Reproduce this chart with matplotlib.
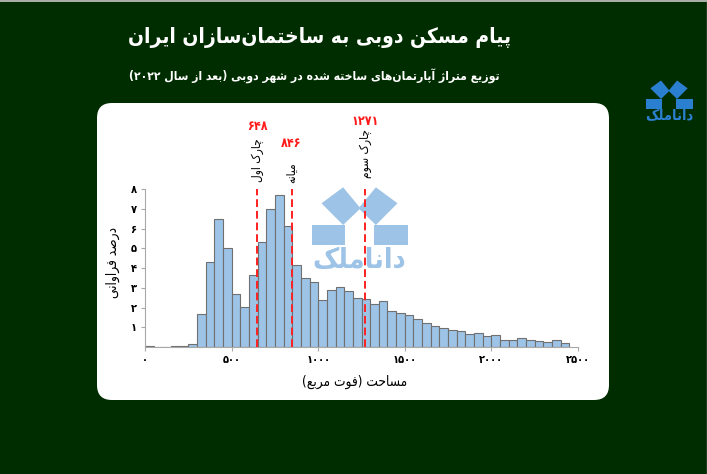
import re
import numpy as np
import matplotlib
matplotlib.use("Agg")
import matplotlib.pyplot as plt
from matplotlib.patches import FancyBboxPatch, Polygon, Rectangle

# ---- data ----
bin_width = 50
bin_start = np.arange(0, 2450, bin_width)
pct = [0.05, 0.02, 0.02, 0.03, 0.05, 0.17, 1.66, 4.31, 6.46, 5.00,
       2.69, 2.03, 3.65, 5.31, 6.99, 7.70, 6.12, 4.15, 3.47, 3.30,
       2.39, 2.88, 3.03, 2.84, 2.50, 2.45, 2.18, 2.32, 1.84, 1.71,
       1.64, 1.42, 1.24, 1.07, 0.98, 0.88, 0.80, 0.68, 0.71, 0.58,
       0.59, 0.36, 0.36, 0.44, 0.36, 0.31, 0.25, 0.36, 0.22]
quart_vals = [648, 846, 1271]
quart_names = ["چارک اول", "میانه", "چارک سوم"]
x_ticks = [0, 500, 1000, 1500, 2000, 2500]
y_ticks = [1, 2, 3, 4, 5, 6, 7, 8]

title = "پیام مسکن دوبی به ساختمان\u200cسازان ایران"
subtitle = "توزیع متراژ آپارتمان\u200cهای ساخته شده در شهر دوبی (بعد از سال ۲۰۲۲)"
xlabel = "مساحت (فوت مربع)"
ylabel = "درصد فراوانی"
brand = "داناملک"

# ---- tiny arabic/persian shaper (matplotlib does no text shaping) ----
# isolated, final, initial, medial
FORMS = {
    '\u0622': (0xFE81, 0xFE82),
    '\u0627': (0xFE8D, 0xFE8E),
    '\u0628': (0xFE8F, 0xFE90, 0xFE91, 0xFE92),
    '\u067E': (0xFB56, 0xFB57, 0xFB58, 0xFB59),
    '\u062A': (0xFE95, 0xFE96, 0xFE97, 0xFE98),
    '\u062D': (0xFEA1, 0xFEA2, 0xFEA3, 0xFEA4),
    '\u062E': (0xFEA5, 0xFEA6, 0xFEA7, 0xFEA8),
    '\u0686': (0xFB7A, 0xFB7B, 0xFB7C, 0xFB7D),
    '\u062F': (0xFEA9, 0xFEAA),
    '\u0631': (0xFEAD, 0xFEAE),
    '\u0632': (0xFEAF, 0xFEB0),
    '\u0698': (0xFB8A, 0xFB8B),
    '\u0633': (0xFEB1, 0xFEB2, 0xFEB3, 0xFEB4),
    '\u0634': (0xFEB5, 0xFEB6, 0xFEB7, 0xFEB8),
    '\u0635': (0xFEB9, 0xFEBA, 0xFEBB, 0xFEBC),
    '\u0639': (0xFEC9, 0xFECA, 0xFECB, 0xFECC),
    '\u0641': (0xFED1, 0xFED2, 0xFED3, 0xFED4),
    '\u06A9': (0xFB8E, 0xFB8F, 0xFB90, 0xFB91),
    '\u0644': (0xFEDD, 0xFEDE, 0xFEDF, 0xFEE0),
    '\u0645': (0xFEE1, 0xFEE2, 0xFEE3, 0xFEE4),
    '\u0646': (0xFEE5, 0xFEE6, 0xFEE7, 0xFEE8),
    '\u0647': (0xFEE9, 0xFEEA, 0xFEEB, 0xFEEC),
    '\u0648': (0xFEED, 0xFEEE),
    '\u06CC': (0xFBFC, 0xFBFD, 0xFBFE, 0xFBFF),
}


def fa(s):
    out = []
    for i, c in enumerate(s):
        if c not in FORMS:
            out.append(c)
            continue
        f = FORMS[c]
        prev = s[i - 1] if i > 0 else ''
        nxt = s[i + 1] if i + 1 < len(s) else ''
        jp = prev in FORMS and len(FORMS[prev]) == 4
        jn = len(f) == 4 and nxt in FORMS
        k = 3 if (jp and jn) else 1 if jp else 2 if jn else 0
        out.append(chr(f[k]))
    vis = ''.join(out).replace('\u200c', '')[::-1]
    vis = re.sub('[\u06F0-\u06F9]+', lambda m: m.group(0)[::-1], vis)
    return vis.translate(str.maketrans('()', ')('))


def fa_num(n):
    return str(n).translate(str.maketrans('0123456789', '۰۱۲۳۴۵۶۷۸۹'))


plt.rcParams['font.family'] = ['DejaVu Sans']
plt.rcParams['font.stretch'] = 'condensed'

fig = plt.figure(figsize=(7.07, 4.74), dpi=100)
fig.patch.set_facecolor('#002d00')

# background layer in pixel units
bg = fig.add_axes([0, 0, 1, 1], zorder=0)
bg.set_xlim(0, 707)
bg.set_ylim(474, 0)
bg.axis('off')
bg.add_patch(FancyBboxPatch((97, 103), 512, 297,
                            boxstyle="round,pad=0,rounding_size=15",
                            fc='white', ec='none'))
bg.plot([0, 707], [0.5, 0.5], color='#c8c8c8', lw=1.2)
bg.plot([706.5, 706.5], [0, 474], color='#9a9a9a', lw=1)

bg.text(320, 37, fa(title), color='white', fontsize=15, fontweight='bold',
        ha='center', va='center')
bg.text(314, 76, fa(subtitle), color='white', fontsize=8.7,
        fontweight='bold', ha='center', va='center')


def draw_logo(target, tr, x0, y0, s, color, fsize, z):
    dl = [(10, 16), (31.6, 0), (49, 21), (31.6, 37.7)]
    dr = [(96 - x, y) for x, y in dl]
    for pts in (dl, dr):
        target.add_patch(Polygon([(x0 + s * x, y0 + s * y) for x, y in pts],
                                 closed=True, fc=color, ec='none',
                                 transform=tr, clip_on=False, zorder=z))
    for rx in (0, 62.5):
        target.add_patch(Rectangle((x0 + s * rx, y0 + s * 37.7), s * 33.5,
                                   s * 20.3, fc=color, ec='none',
                                   transform=tr, clip_on=False, zorder=z))
    target.text(x0 + s * 48, y0 + s * 72.5, fa(brand), color=color,
                fontsize=fsize, fontweight='bold', ha='center', va='center',
                transform=tr, clip_on=False, zorder=z)


draw_logo(bg, bg.transData, 645.5, 80.5, 0.49, '#2a7fd0', 10.5, 2)

# ---- chart ----
ax = fig.add_axes([145 / 707, 1 - 347 / 474, 433 / 707, 158 / 474], zorder=1)
ax.patch.set_alpha(0)
ax.bar(bin_start, pct, width=bin_width, align='edge', color='#9dc3e6',
       edgecolor='#707070', linewidth=0.8, zorder=1)
ax.set_xlim(0, 2500)
ax.set_ylim(0, 8)

draw_logo(ax, bg.transData, 311.5, 187.3, 1.0, '#9dc3e6', 20.5, 1.5)

ax.vlines(quart_vals, 0, 8, colors='#ff2020', linestyles=(0, (4, 2)),
          lw=1.4, zorder=3)
name_y = [8.35, 8.3, 8.55]
num_y = [11.15, 10.28, 11.4]
for q, nm, ny, vy in zip(quart_vals, quart_names, name_y, num_y):
    ax.text(q, ny, fa(nm), rotation=90, ha='center', va='bottom',
            fontsize=8.5, color='black', clip_on=False)
    ax.text(q, vy, fa_num(q), ha='center', va='center', fontsize=9,
            fontweight='bold', color='#ff1a1a', clip_on=False)

for side in ('top', 'right'):
    ax.spines[side].set_visible(False)
for side in ('left', 'bottom'):
    ax.spines[side].set_color('#a8a8a8')
ax.set_xticks(x_ticks)
ax.set_xticklabels([fa_num(v) for v in x_ticks], fontweight='bold')
ax.set_yticks(y_ticks)
ax.set_yticklabels([fa_num(v) for v in y_ticks], fontweight='bold')
ax.tick_params(axis='both', length=3, color='#a8a8a8', labelsize=8,
               pad=3)

bg.text(355, 382, fa(xlabel), fontsize=9.8, ha='center', va='center')
bg.text(113, 263, fa(ylabel), fontsize=9.8, rotation=90, ha='center',
        va='center')

fig.savefig('out.png', dpi=100, facecolor=fig.get_facecolor())
